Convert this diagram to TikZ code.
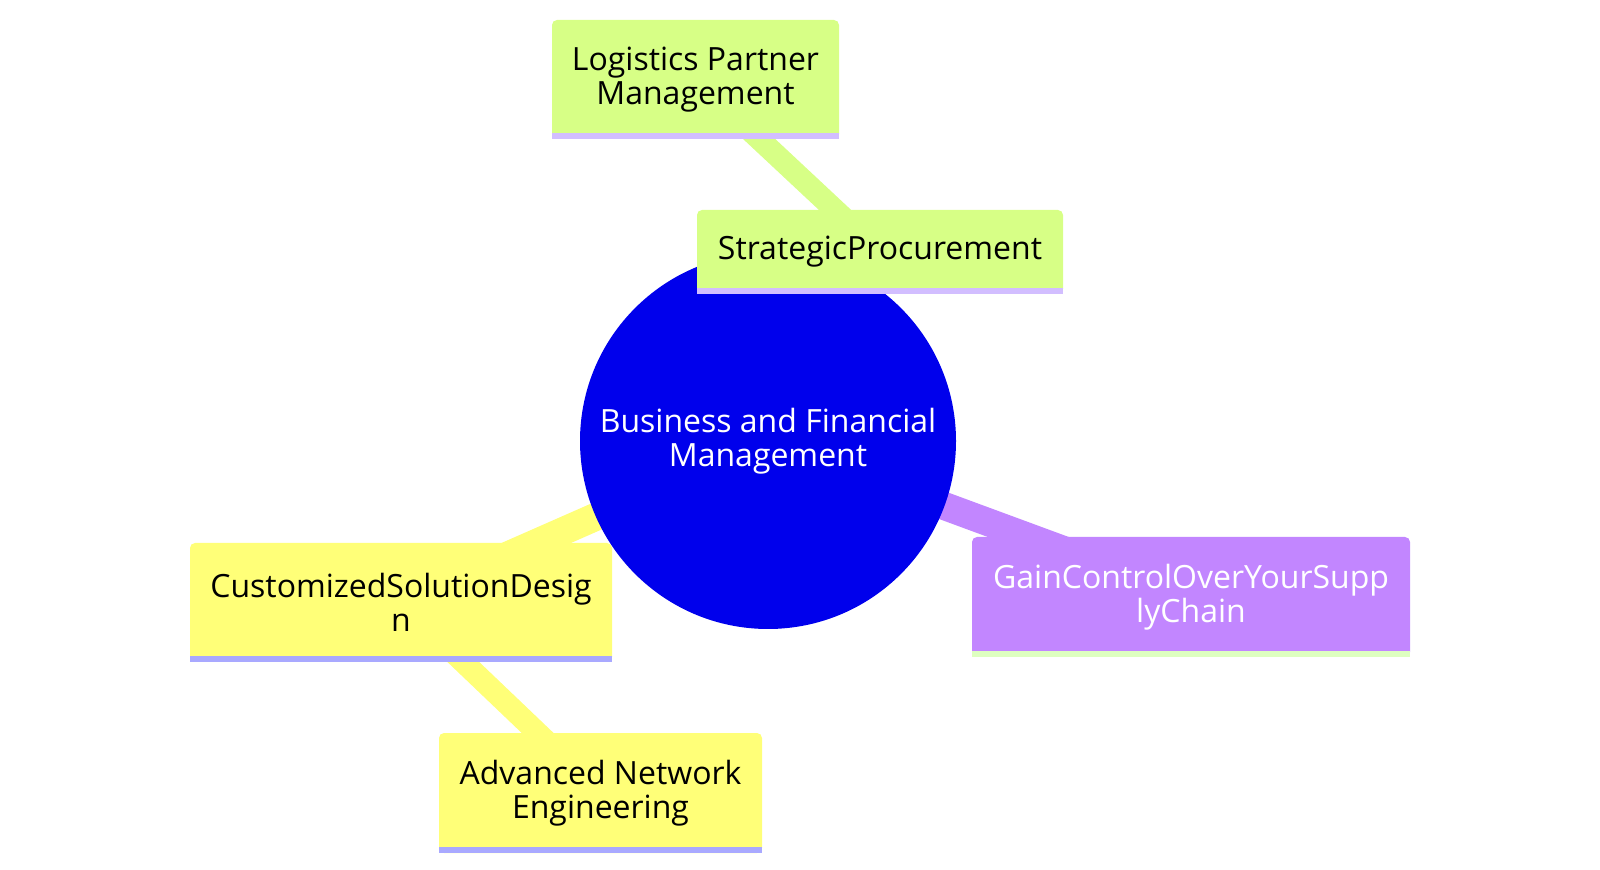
\documentclass[tikz,border=0pt]{standalone}
\usepackage{fontspec}
\setmainfont{Open Sans}
\usepackage{xcolor}
\usepackage{tikz}
\usetikzlibrary{backgrounds}

\definecolor{rootblue}{HTML}{0000EC}
\definecolor{secyellow}{HTML}{FFFF78}
\definecolor{secgreen}{HTML}{D7FF86}
\definecolor{secpurple}{HTML}{C286FF}
\definecolor{lineyellow}{HTML}{A9A9FF}
\definecolor{linegreen}{HTML}{D2BEFF}
\definecolor{linepurple}{HTML}{DEFFC0}

\tikzset{
	mmtext/.style={font=\fontsize{16pt}{17.3pt}\selectfont, align=center},
	mmroot/.style={mmtext, circle, fill=rootblue, text=white, minimum size=188pt, inner sep=0pt},
	mmbox/.style={mmtext, rectangle, rounded corners=2.5pt, inner sep=0pt},
	mmedge/.style={line width=14pt},
	mmsubedge/.style={line width=11pt}
}

% square stripe along the bottom of a box
\newcommand{\mmstripe}[2]{%
	\fill[#2] ([yshift=3pt]#1.south west) rectangle (#1.south east);
}

\begin{document}
\begin{tikzpicture}[x=0.5pt,y=-0.5pt]
					\useasboundingbox (0,0) rectangle (1600,870);
					\node[mmroot] (root) at (768,441) {Business and Financial\\Management};
					\node[mmbox,fill=secgreen,minimum width=183pt,minimum height=42pt] (strat) at (880,252) {StrategicProcurement};
					\node[mmbox,fill=secgreen,minimum width=143.5pt,minimum height=59.5pt] (logi) at (695.5,79.5) {Logistics Partner\\Management};
					\node[mmbox,fill=secyellow,minimum width=211pt,minimum height=59.5pt] (cust) at (401,602.5) {CustomizedSolutionDesig\\n};
					\node[mmbox,fill=secyellow,minimum width=161.5pt,minimum height=60pt] (adv) at (600.5,793) {Advanced Network\\Engineering};
					\node[mmbox,fill=secpurple,text=white,minimum width=219pt,minimum height=60pt] (gain) at (1191,597) {GainControlOverYourSupp\\lyChain};
					\mmstripe{strat}{linegreen}
					\mmstripe{logi}{linegreen}
					\mmstripe{cust}{lineyellow}
					\mmstripe{adv}{lineyellow}
					\mmstripe{gain}{linepurple}
					% edges run centre to centre, behind the nodes
					\begin{pgfonlayer}{background}
						\draw[mmedge,secgreen] (root.center) -- (strat.center);
						\draw[mmsubedge,secgreen] (strat.center) -- (logi.center);
						\draw[mmedge,secyellow] (root.center) -- (cust.center);
						\draw[mmsubedge,secyellow] (cust.center) -- (adv.center);
						\draw[mmedge,secpurple] (root.center) -- (gain.center);
					\end{pgfonlayer}
				\end{tikzpicture}
\end{document}
